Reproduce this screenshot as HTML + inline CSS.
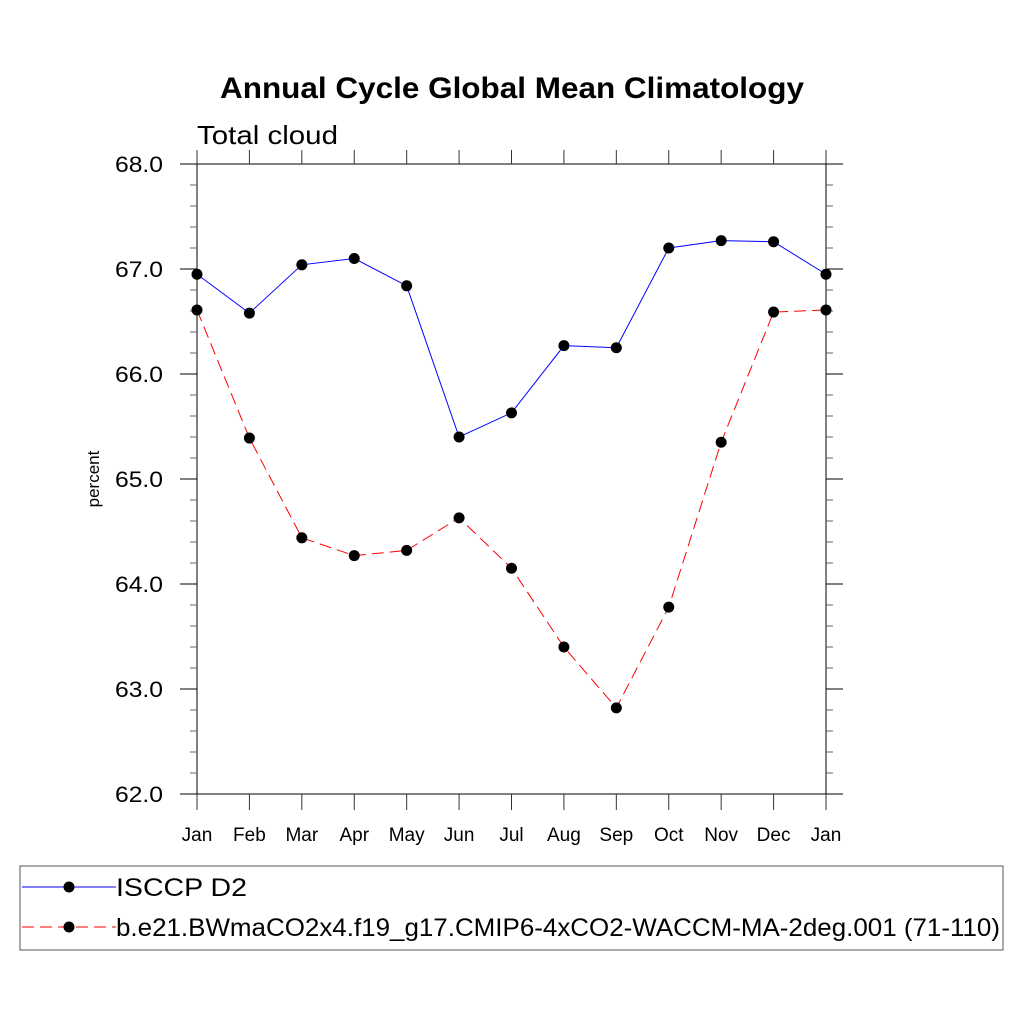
<!DOCTYPE html>
<html><head><meta charset="utf-8"><style>
body{margin:0;background:#fff;}
svg text{font-family:"Liberation Sans",sans-serif;}
</style></head><body>
<svg id="chart" width="1024" height="1024" xmlns="http://www.w3.org/2000/svg">
<rect width="1024" height="1024" fill="#fff"/>
<text x="220" y="98" font-size="30" font-weight="bold" textLength="584" lengthAdjust="spacingAndGlyphs">Annual Cycle Global Mean Climatology</text>
<text x="197" y="144" font-size="26" textLength="141" lengthAdjust="spacingAndGlyphs">Total cloud</text>
<text x="99" y="479" font-size="17" text-anchor="middle" transform="rotate(-90 99 479)">percent</text>
<g id="axes"></g>
<g id="series"></g>
<rect x="20" y="866" width="983" height="84" fill="none" stroke="#555" stroke-width="1"/>
<g>
<line x1="22" y1="887" x2="116" y2="887" stroke="#00f" stroke-width="1"/>
<circle cx="69" cy="887" r="5.5" fill="#000"/>
<text x="116" y="896" font-size="25" textLength="131" lengthAdjust="spacingAndGlyphs">ISCCP D2</text>
</g>
<g>
<line x1="22" y1="927" x2="116" y2="927" stroke="#f00" stroke-width="1" stroke-dasharray="12,6"/>
<circle cx="69" cy="927" r="5.5" fill="#000"/>
<text x="116" y="936" font-size="25" textLength="884" lengthAdjust="spacingAndGlyphs">b.e21.BWmaCO2x4.f19_g17.CMIP6-4xCO2-WACCM-MA-2deg.001 (71-110)</text>
</g>
</svg>
<script>
const months = ["Jan","Feb","Mar","Apr","May","Jun","Jul","Aug","Sep","Oct","Nov","Dec","Jan"];
const isccp = [66.95,66.58,67.04,67.10,66.84,65.40,65.63,66.27,66.25,67.20,67.27,67.26,66.95];
const model = [66.61,65.39,64.44,64.27,64.32,64.63,64.15,63.40,62.82,63.78,65.35,66.59,66.61];
const yTicks = [62,63,64,65,66,67,68];
const yTickLabels = ["62.0","63.0","64.0","65.0","66.0","67.0","68.0"];
const NS="http://www.w3.org/2000/svg";
const X0=197,X1=826,Y0=794,Y1=164,YMIN=62,YMAX=68;
function xs(i){return X0+(X1-X0)*i/(months.length-1);}
function ys(v){return Y0-(v-YMIN)/(YMAX-YMIN)*(Y0-Y1);}
function mk(tag,attrs,parent){const e=document.createElementNS(NS,tag);for(const k in attrs)e.setAttribute(k,attrs[k]);parent.appendChild(e);return e;}
const ax=document.getElementById('axes');
const frame=mk('rect',{x:X0,y:Y1,width:X1-X0,height:Y0-Y1,fill:'none',stroke:'#000','stroke-width':1},ax);


for(let v=YMIN;v<=YMAX+1e-9;v+=0.2){
  const y=ys(v);const major=Math.abs(v-Math.round(v))<1e-6;const L=major?17:7;
  const c=major?'#000':'#666';
  mk('line',{x1:X0-L,y1:y,x2:X0,y2:y,stroke:c,'stroke-width':1},ax);
  mk('line',{x1:X1,y1:y,x2:X1+L,y2:y,stroke:c,'stroke-width':1},ax);
}
yTicks.forEach((v,i)=>{
  const t=mk('text',{x:115,y:ys(v)+8,'font-size':22,textLength:48,lengthAdjust:'spacingAndGlyphs'},ax);
  t.textContent=yTickLabels[i];
  
  
});
months.forEach((m,i)=>{
  const x=xs(i);
  mk('line',{x1:x,y1:Y0,x2:x,y2:Y0+16,stroke:'#333','stroke-width':1},ax);
  mk('line',{x1:x,y1:Y1,x2:x,y2:Y1-14,stroke:'#333','stroke-width':1},ax);
  const t=mk('text',{x:x,y:841,'text-anchor':'middle','font-size':19},ax);
  t.textContent=m;
  
  
});
const sg=document.getElementById('series');
function draw(vals,color,dash,name){
  const g=mk('g',{},sg);
  
  
  const pts=vals.map((v,i)=>xs(i)+','+ys(v)).join(' ');
  const a={points:pts,fill:'none',stroke:color,'stroke-width':1};
  if(dash)a['stroke-dasharray']=dash;
  mk('polyline',a,g);
  vals.forEach((v,i)=>{
    const c=mk('circle',{cx:xs(i),cy:ys(v),r:5.5,fill:'#000'},g);
    
    
  });
}
draw(isccp,'#00f',null,'series-isccp');
draw(model,'#f00','12,6','series-model');
</script>
</body></html>
